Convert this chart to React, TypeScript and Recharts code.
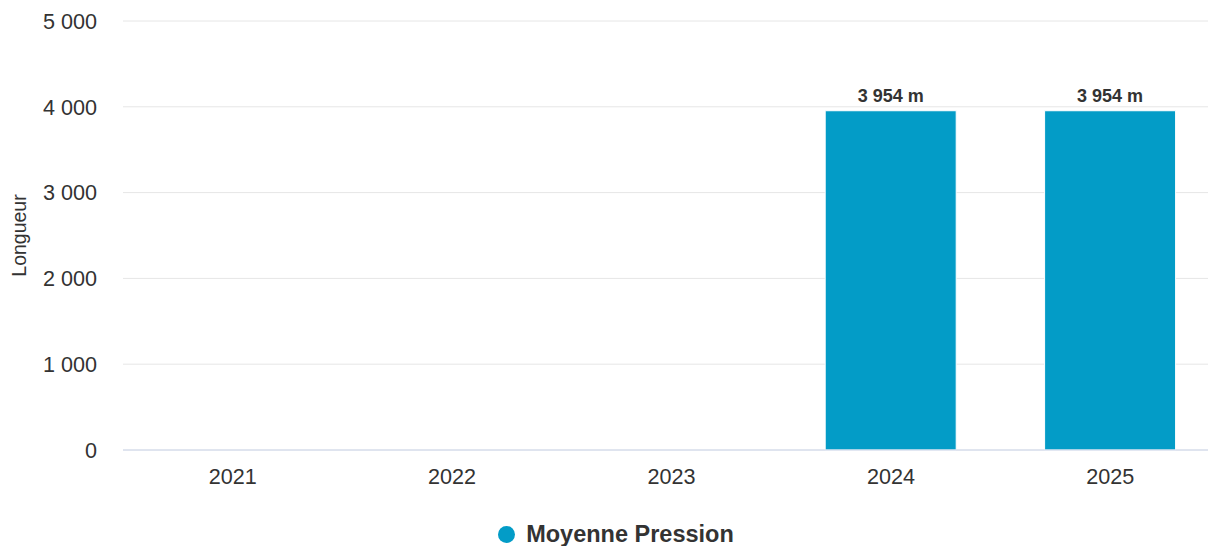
import React from 'react';
import {
  BarChart,
  Bar,
  XAxis,
  YAxis,
  CartesianGrid,
  Legend,
  LabelList
} from 'recharts';

const years = ['2021', '2022', '2023', '2024', '2025'];
const moyennePression: (number | null)[] = [null, null, null, 3954, 3954];
const yTicks = [0, 1000, 2000, 3000, 4000, 5000];

const SERIES_COLOR = '#039cc7';
const FONT = '"Liberation Sans", Arial, Helvetica, sans-serif';

const fmt = (v: number) => String(Math.round(v)).replace(/\B(?=(\d{3})+(?!\d))/g, ' ');

const data = years.map((year, i) => ({ year, value: moyennePression[i] }));

const YTick = ({ y, payload }: any) => (
  <text x={97} y={y} dy="0.36em" textAnchor="end" fill="#333333" fontSize={21.6} fontFamily={FONT}>
    {fmt(payload.value)}
  </text>
);

const XTick = ({ x, y, payload }: any) => (
  <text x={x} y={y + 18} dy="0.36em" textAnchor="middle" fill="#333333" fontSize={21.6} fontFamily={FONT}>
    {payload.value}
  </text>
);

const LegendContent = () => (
  <div style={{ display: 'flex', justifyContent: 'center', alignItems: 'center', fontFamily: FONT, height: 28 }}>
    <span
      style={{
        width: 17,
        height: 17,
        borderRadius: '50%',
        background: SERIES_COLOR,
        display: 'inline-block',
        marginRight: 11
      }}
    />
    <span style={{ fontWeight: 'bold', fontSize: 23.5, color: '#333333' }}>Moyenne Pression</span>
  </div>
);

export default function App() {
  return (
    <div style={{ position: 'absolute', left: 0, top: 0, width: 1208, height: 546, overflow: 'hidden', background: '#fff' }}>
      <BarChart
        width={1232}
        height={546}
        data={data}
        margin={{ top: 21, right: 12, left: 0, bottom: 38 }}
        barSize={131}
      >
        <CartesianGrid vertical={false} stroke="#e6e6e6" />
        <XAxis
          dataKey="year"
          axisLine={{ stroke: '#ccd6eb' }}
          tickLine={false}
          tick={<XTick />}
          interval={0}
        />
        <YAxis
          width={123}
          domain={[0, 5000]}
          ticks={yTicks}
          axisLine={false}
          tickLine={false}
          tick={<YTick />}
          label={{
            value: 'Longueur',
            angle: -90,
            position: 'insideLeft',
            dx: 14,
            style: { fill: '#333333', fontSize: 19.5, fontFamily: FONT, textAnchor: 'middle' }
          }}
        />
        <Legend
          verticalAlign="bottom"
          content={<LegendContent />}
          wrapperStyle={{ bottom: -2, left: 0, width: 1232 }}
        />
        <Bar dataKey="value" fill={SERIES_COLOR} stroke="#ffffff" strokeWidth={1} isAnimationActive={false}>
          <LabelList
            dataKey="value"
            position="top"
            offset={9}
            formatter={(v: any) => (v == null ? '' : `${fmt(v)} m`)}
            style={{ fill: '#333333', fontSize: 18, fontWeight: 'bold', fontFamily: FONT }}
          />
        </Bar>
      </BarChart>
    </div>
  );
}
